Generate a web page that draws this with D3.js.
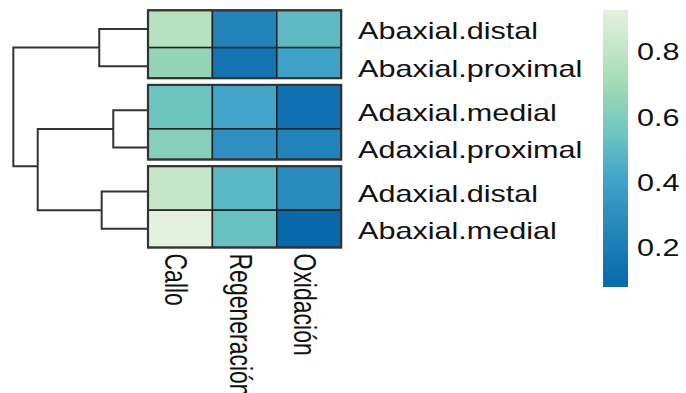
<!DOCTYPE html>
<html>
<head>
<meta charset="utf-8">
<script src="https://d3js.org/d3.v7.min.js"></script>
<style>
  body { margin: 0; background: #fff; }
  svg { display: block; font-family: "Liberation Sans", Arial, sans-serif; }
</style>
</head>
<body>
<svg width="686" height="393"></svg>
<script>
// rows in dendrogram order, columns, cell values
var rowNames = ["Abaxial.distal", "Abaxial.proximal", "Adaxial.medial",
                "Adaxial.proximal", "Adaxial.distal", "Abaxial.medial"];
var colNames = ["Callo", "Regeneración", "Oxidación"];
var callo        = [0.77, 0.66, 0.55, 0.62, 0.82, 0.93];
var regeneracion = [0.24, 0.15, 0.42, 0.31, 0.49, 0.53];
var oxidacion    = [0.50, 0.40, 0.13, 0.24, 0.28, 0.08];
var series = [callo, regeneracion, oxidacion];

// row clustering (leaf indexes are negative, earlier merges positive, 1-based)
var merges = [[-3, -4], [-5, -6], [-1, -2], [1, 2], [3, 4]];
var mergeHeights = [0.258, 0.344, 0.362, 0.819, 1.0];
var gapsAfter = [2, 4];

var legendTicks = [0.2, 0.4, 0.6, 0.8];
var paletteStops = [0, 0.25, 0.40, 0.55, 0.75, 1];
var palette = ["#0868ac", "#2b8cbe", "#43a5c9", "#6cc5bf", "#a8dcb5", "#e4f2dd"];

var svg = d3.select("svg");
var stretch = 1.33; // the picture is wider than it is tall
var fs = 23;

var hmLeft = 148, cellW = 64.4, hmTop = 10.3, rowH = 37.3, gap = 6.7;
var ink = "#222";

var x = d3.scaleBand().domain(colNames).range([hmLeft, hmLeft + cellW * 3]);
var yUnit = d3.scaleLinear().domain([0, rowNames.length]).range([hmTop, hmTop + rowH * rowNames.length]);
function ypos(u) {
  return yUnit(u) + gap * gapsAfter.filter(function(g) { return g < u; }).length;
}

var ext = d3.extent(d3.merge(series));
var color = d3.scaleLinear()
  .domain(paletteStops.map(function(t) { return ext[0] + (ext[1] - ext[0]) * t; }))
  .range(palette);

// cells
var cells = [];
series.forEach(function(s, j) {
  s.forEach(function(v, i) { cells.push({ r: i, c: colNames[j], v: v }); });
});
svg.append("g").selectAll("rect").data(cells).enter().append("rect")
  .attr("x", function(d) { return x(d.c); })
  .attr("y", function(d) { return ypos(d.r); })
  .attr("width", x.bandwidth())
  .attr("height", function(d) { return ypos(d.r + 1) - ypos(d.r) - (gapsAfter.indexOf(d.r + 1) >= 0 ? gap : 0); })
  .attr("fill", function(d) { return color(d.v); })
  .attr("stroke", ink).attr("stroke-width", 1.5);

// outline of each row group
var bounds = [0].concat(gapsAfter).concat([rowNames.length]);
svg.append("g").selectAll("rect").data(d3.pairs(bounds)).enter().append("rect")
  .attr("x", hmLeft).attr("width", cellW * 3)
  .attr("y", function(d) { return ypos(d[0]); })
  .attr("height", function(d) { return ypos(d[1]) - ypos(d[0]) - (d[1] < rowNames.length ? gap : 0); })
  .attr("fill", "none").attr("stroke", "#333").attr("stroke-width", 2.2);

// dendrogram
var hx = d3.scaleLinear().domain([0, d3.max(mergeHeights) * 1.05]).range([hmLeft, hmLeft - 141.4]);
var nodes = rowNames.map(function(d, i) { return { u: i + 0.5, h: 0 }; });
function node(k) { return k < 0 ? nodes[-k - 1] : nodes[rowNames.length + k - 1]; }
var links = [];
merges.forEach(function(m, i) {
  var a = node(m[0]), b = node(m[1]);
  var n = { u: (a.u + b.u) / 2, h: mergeHeights[i] };
  nodes.push(n);
  links.push([a, n, b]);
});
svg.append("g").selectAll("path").data(links).enter().append("path")
  .attr("d", function(d) {
    var a = d[0], n = d[1], b = d[2];
    return "M" + hx(a.h) + "," + ypos(a.u) + "H" + hx(n.h) + "V" + ypos(b.u) + "H" + hx(b.h);
  })
  .attr("fill", "none").attr("stroke", "#333").attr("stroke-width", 2);

// row labels
svg.append("g").selectAll("text").data(rowNames).enter().append("text")
  .attr("transform", function(d, i) { return "translate(358," + (ypos(i + 0.5) + 10.5) + ") scale(" + stretch + ",1)"; })
  .attr("font-size", fs).attr("fill", "#111")
  .text(function(d) { return d; });

// column labels
var hmBottom = ypos(rowNames.length);
svg.append("g").selectAll("text").data(colNames).enter().append("text")
  .attr("transform", function(d) {
    return "translate(" + (x(d) + x.bandwidth() / 2 - 15) + "," + (hmBottom + 6) + ") scale(" + stretch + ",1) rotate(90)";
  })
  .attr("font-size", fs).attr("fill", "#111")
  .text(function(d) { return d; });

// legend
var ly = d3.scaleLinear().domain(ext).range([287, 10]);
var grad = svg.append("defs").append("linearGradient").attr("id", "lg")
  .attr("x1", 0).attr("y1", 1).attr("x2", 0).attr("y2", 0);
d3.range(0, 1.0001, 0.05).forEach(function(t) {
  grad.append("stop").attr("offset", t).attr("stop-color", color(ext[0] + t * (ext[1] - ext[0])));
});
svg.append("rect").attr("x", 603).attr("y", 10).attr("width", 25).attr("height", 277)
  .attr("fill", "url(#lg)");
svg.append("g").selectAll("text").data(legendTicks).enter().append("text")
  .attr("transform", function(d) { return "translate(637," + (ly(d) + 8) + ") scale(" + stretch + ",1)"; })
  .attr("font-size", fs).attr("fill", "#111")
  .text(function(d) { return d3.format(".1f")(d); });
</script>
</body>
</html>
